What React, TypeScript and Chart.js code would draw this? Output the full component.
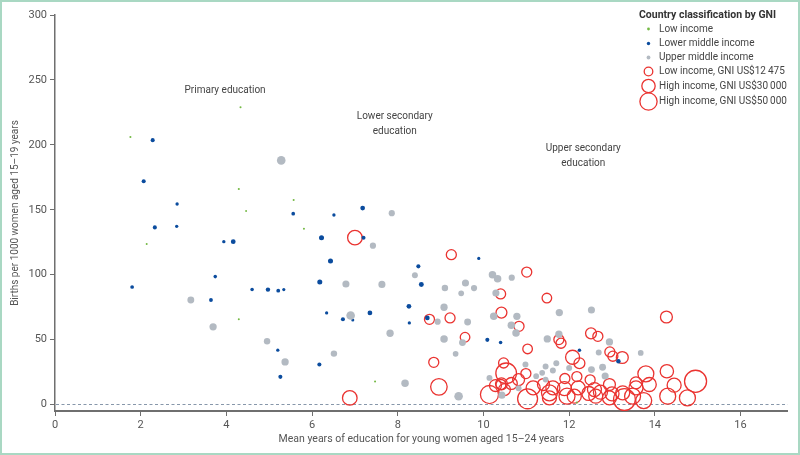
import { useEffect, useRef } from "react";
import { Chart, registerables } from "chart.js";

Chart.register(...registerables);

const FONT = "Roboto, 'Liberation Sans', sans-serif";
const GREEN = "#74b944";
const BLUE = "#0b4c9e";
const GRAY = "#b3bac2";
const RED = "#ea3330";

const xTicks = [0, 2, 4, 6, 8, 10, 12, 14, 16];
const yTicks = [0, 50, 100, 150, 200, 250, 300];

// [mean years of education, births per 1000 women 15–19, GNI US$]
const lowIncome: number[][] = [
  [1.76, 206, 700], [4.33, 229, 700], [4.29, 166, 750], [5.57, 157.5, 700], [4.46, 149, 650],
  [5.81, 135.4, 700], [2.14, 123.6, 700], [4.29, 65.6, 700], [7.47, 17.7, 700], [12.18, 1.5, 750],
];

const lowerMiddle: number[][] = [
  [2.28, 203.6, 2800], [2.07, 172, 2800], [2.85, 154.4, 1900], [5.56, 147, 2300], [6.51, 146, 1900],
  [2.33, 136.4, 2800], [2.84, 137.2, 1900], [6.22, 128.5, 4300], [3.94, 125.4, 1900], [4.16, 125.4, 3800],
  [6.43, 110.5, 4300], [3.74, 98.5, 2100], [1.8, 90.5, 2300], [4.6, 88.5, 2100], [4.97, 88.5, 3300],
  [5.21, 87.7, 2500], [5.34, 88.5, 1700], [6.18, 94.4, 4300], [3.64, 80.5, 2500], [6.34, 70.5, 1800],
  [6.72, 65.6, 2800], [6.95, 65.1, 1600], [7.35, 70.5, 3800], [8.26, 75.6, 3800], [8.27, 62.8, 1800],
  [8.69, 66.7, 3800], [5.2, 41.8, 1800], [6.17, 30.8, 2800], [5.26, 21.3, 2800], [7.18, 151.3, 3800],
  [7.2, 128.5, 2800], [9.89, 112.5, 1700], [8.48, 106.4, 2800], [8.55, 92.5, 4100], [10.09, 49.8, 2800],
  [10.4, 47.7, 2100], [12.24, 41.8, 2100], [13.15, 33.3, 3300],
];

const upperMiddle: number[][] = [
  [5.28, 188, 12500], [6.79, 92.8, 8500], [7.63, 92.5, 8500], [3.17, 80.5, 8000], [6.9, 68.5, 12500],
  [3.69, 59.8, 9000], [7.82, 54.9, 9000], [4.95, 48.7, 7000], [5.37, 32.8, 9000], [6.51, 39.2, 7000],
  [8.17, 16.4, 9500], [7.86, 147.4, 6500], [7.42, 122.3, 6500], [8.4, 99.5, 6000], [9.1, 89.7, 7000],
  [9.48, 85.6, 5500], [9.58, 93.6, 8500], [9.78, 89.7, 6500], [10.21, 100, 9500], [10.33, 96.9, 9500],
  [10.66, 97.7, 6500], [10.29, 85.9, 8500], [9.08, 74.9, 9000], [8.93, 63.8, 6500], [9.63, 63.6, 8000],
  [10.24, 67.9, 9500], [10.78, 67.9, 9000], [10.65, 61, 9500], [10.76, 55.1, 9500], [9.08, 50.5, 9500],
  [9.51, 47.7, 8000], [11.49, 50.5, 9000], [9.35, 39, 5500], [10.98, 30.8, 6000], [11.45, 29.2, 6000],
  [9.42, 6.4, 12500], [11.77, 70.8, 9000], [12.52, 72.8, 8500], [11.76, 54.1, 9000], [12.94, 48.2, 9000],
  [13.67, 39.7, 5500], [12.69, 40, 6000], [11.7, 31.7, 6000], [12.0, 28.2, 6000], [12.52, 26.9, 8000],
  [12.78, 28.7, 8000], [12.84, 22, 8500], [10.43, 7.2, 8500], [10.82, 12.6, 6000], [11.23, 21.8, 5500],
  [11.37, 24.4, 5500], [10.14, 20.5, 6000], [11.62, 26.2, 6000], [11.45, 19.2, 5500],
];

const highIncome: number[][] = [
  [6.88, 5.1, 36000], [7.0, 128.5, 36000], [9.25, 115.4, 17000], [11.01, 102, 17000], [10.4, 85.2, 17000],
  [11.48, 82, 15500], [8.74, 65.6, 17000], [9.22, 66.7, 17000], [10.42, 70.8, 20000], [10.83, 60.2, 17000],
  [9.57, 51.8, 15500], [11.03, 42.8, 15500], [8.84, 32.5, 17000], [10.47, 32, 17000], [10.53, 24, 72000],
  [10.99, 23.8, 17000], [8.96, 13.6, 46000], [10.14, 7.7, 55000], [11.03, 4.4, 67000], [10.41, 15.4, 17000],
  [14.27, 67.4, 24000], [11.76, 50, 17000], [11.81, 47.2, 17000], [12.51, 54.8, 20000], [12.67, 52.5, 17000],
  [12.95, 40.5, 17000], [13.02, 37.2, 17000], [13.24, 36.2, 24000], [12.08, 36.4, 33000], [12.24, 31.8, 20000],
  [12.18, 21.5, 17000], [11.9, 20, 17000], [12.49, 19, 17000], [13.79, 23.6, 43000], [14.28, 25.6, 30000],
  [14.95, 17.9, 82000], [14.45, 14.9, 33000], [13.87, 15.4, 33000], [13.56, 16.7, 24000], [14.3, 6.4, 43000],
  [14.76, 5.1, 43000], [13.74, 3, 43000], [13.48, 6.4, 43000], [13.25, 9, 33000], [13.29, 3.8, 80000],
  [13.0, 8.2, 33000], [12.73, 9.5, 33000], [12.59, 11.5, 33000], [12.46, 8.5, 33000], [12.94, 15.4, 24000],
  [12.21, 12.8, 33000], [11.89, 12.3, 33000], [11.95, 6.4, 43000], [11.62, 12.8, 33000], [11.54, 9, 43000],
  [11.4, 15.4, 24000], [11.16, 12.8, 33000], [10.42, 15.9, 24000], [10.28, 14.6, 24000], [10.65, 16.2, 24000],
  [10.82, 19.2, 24000], [10.49, 11.5, 24000], [11.54, 5.1, 33000], [13.56, 12.8, 33000], [12.12, 6.4, 33000],
  [12.62, 6.4, 33000], [12.94, 5.1, 33000],
];

const legendGni = [12475, 30000, 50000];
const legendLabels = [
  "Low income",
  "Lower middle income",
  "Upper middle income",
  "Low income, GNI US$12\u2009475",
  "High income, GNI US$30\u2009000",
  "High income, GNI US$50\u2009000",
];

// annotation labels in data coordinates
const annotations = [
  { lines: ["Primary education"], x: 3.97, y: 241.5 },
  { lines: ["Lower secondary", "education"], x: 7.93, y: 222 },
  { lines: ["Upper secondary", "education"], x: 12.33, y: 197.5 },
];

const radius = (gni: number) => 0.0385 * Math.sqrt(gni);
const toPoints = (rows: number[][]) => rows.map(([x, y, g]) => ({ x, y, r: radius(g) }));

const extras = {
  id: "extras",
  beforeDatasetsDraw(chart: any) {
    const { ctx, chartArea, scales } = chart;
    const y0 = scales.y.getPixelForValue(0);
    ctx.save();
    ctx.strokeStyle = "#8797aa";
    ctx.lineWidth = 1;
    ctx.setLineDash([3, 2.5]);
    ctx.beginPath();
    ctx.moveTo(chartArea.left + 1, y0);
    ctx.lineTo(chartArea.right, y0);
    ctx.stroke();
    ctx.restore();
  },
  afterDraw(chart: any) {
    const { ctx, scales } = chart;
    ctx.save();
    // annotations
    ctx.fillStyle = "#444";
    ctx.font = `10px ${FONT}`;
    ctx.textAlign = "center";
    ctx.textBaseline = "middle";
    annotations.forEach((a) => {
      const px = scales.x.getPixelForValue(a.x);
      const py = scales.y.getPixelForValue(a.y);
      a.lines.forEach((l, i) => ctx.fillText(l, px, py + i * 15));
    });
    // legend
    const lx = 648.5;
    const tx = 659;
    ctx.textAlign = "left";
    ctx.fillStyle = "#333";
    ctx.font = `bold 10.5px ${FONT}`;
    ctx.fillText("Country classification by GNI", 639, 15);
    const rows = [29, 43.5, 57.5, 71.5, 86, 101.5];
    const dots = [
      { c: GREEN, r: 1.4 },
      { c: BLUE, r: 1.7 },
      { c: GRAY, r: 1.9 },
    ];
    ctx.font = `10px ${FONT}`;
    rows.forEach((y, i) => {
      if (i < 3) {
        ctx.fillStyle = dots[i].c;
        ctx.beginPath();
        ctx.arc(lx, y, dots[i].r, 0, Math.PI * 2);
        ctx.fill();
      } else {
        ctx.strokeStyle = RED;
        ctx.lineWidth = 1.3;
        ctx.beginPath();
        ctx.arc(lx, y, radius(legendGni[i - 3]), 0, Math.PI * 2);
        ctx.stroke();
      }
      ctx.fillStyle = "#444";
      ctx.fillText(legendLabels[i], tx, y);
    });
    ctx.restore();
  },
};

export default function App() {
  const ref = useRef<HTMLCanvasElement>(null);
  useEffect(() => {
    document.body.style.margin = "0";
    const axisColor = "#6f6f6f";
    const chart = new Chart(ref.current as HTMLCanvasElement, {
      type: "bubble",
      data: {
        datasets: [
          { label: "Upper middle income", data: toPoints(upperMiddle), backgroundColor: GRAY, borderWidth: 0 },
          { label: "Lower middle income", data: toPoints(lowerMiddle), backgroundColor: BLUE, borderWidth: 0 },
          { label: "Low income", data: toPoints(lowIncome), backgroundColor: GREEN, borderWidth: 0 },
          {
            label: "High income",
            data: toPoints(highIncome),
            backgroundColor: "rgba(0,0,0,0)",
            borderColor: RED,
            borderWidth: 1.3,
          },
        ] as any,
      },
      options: {
        animation: false,
        responsive: true,
        maintainAspectRatio: false,
        clip: false as any,
        layout: { padding: { top: 15, right: 12, left: 0, bottom: 0 } },
        plugins: { legend: { display: false }, tooltip: { enabled: false } },
        events: [],
        scales: {
          x: {
            type: "linear",
            min: 0,
            max: 17.1,
            afterBuildTicks: (a: any) => {
              a.ticks = xTicks.map((v) => ({ value: v }));
            },
            afterFit: (s: any) => {
              s.height = 44;
            },
            border: { display: true, color: axisColor, width: 2 },
            grid: { display: true, drawOnChartArea: false, drawTicks: true, tickLength: 5, color: axisColor, lineWidth: 1 },
            ticks: { color: "#555", font: { size: 11, family: FONT }, padding: 3, maxRotation: 0 },
            title: {
              display: true,
              text: "Mean years of education for young women aged 15–24 years",
              color: "#555",
              font: { size: 10.5, family: FONT },
              padding: { top: 0, bottom: 9 },
            },
          },
          y: {
            type: "linear",
            min: -5,
            max: 300,
            afterBuildTicks: (a: any) => {
              a.ticks = yTicks.map((v) => ({ value: v }));
            },
            afterFit: (s: any) => {
              s.width = 55;
            },
            border: { display: true, color: axisColor, width: 1.5 },
            grid: { display: true, drawOnChartArea: false, drawTicks: true, tickLength: 5, color: axisColor, lineWidth: 1 },
            ticks: { color: "#555", font: { size: 11, family: FONT }, padding: 3 },
            title: {
              display: true,
              text: "Births per 1000 women aged 15–19 years",
              color: "#555",
              font: { size: 10, family: FONT },
              padding: { top: 9, bottom: 0 },
            },
          },
        },
      } as any,
      plugins: [extras],
    });
    return () => chart.destroy();
  }, []);
  return (
    <div style={{ position: "fixed", left: 0, top: 0, width: 800, height: 455, background: "#fff" }}>
      <canvas ref={ref} />
      <div
        style={{
          position: "absolute",
          inset: 0,
          border: "2px solid #a9d8c3",
          boxSizing: "border-box",
          pointerEvents: "none",
        }}
      />
    </div>
  );
}
